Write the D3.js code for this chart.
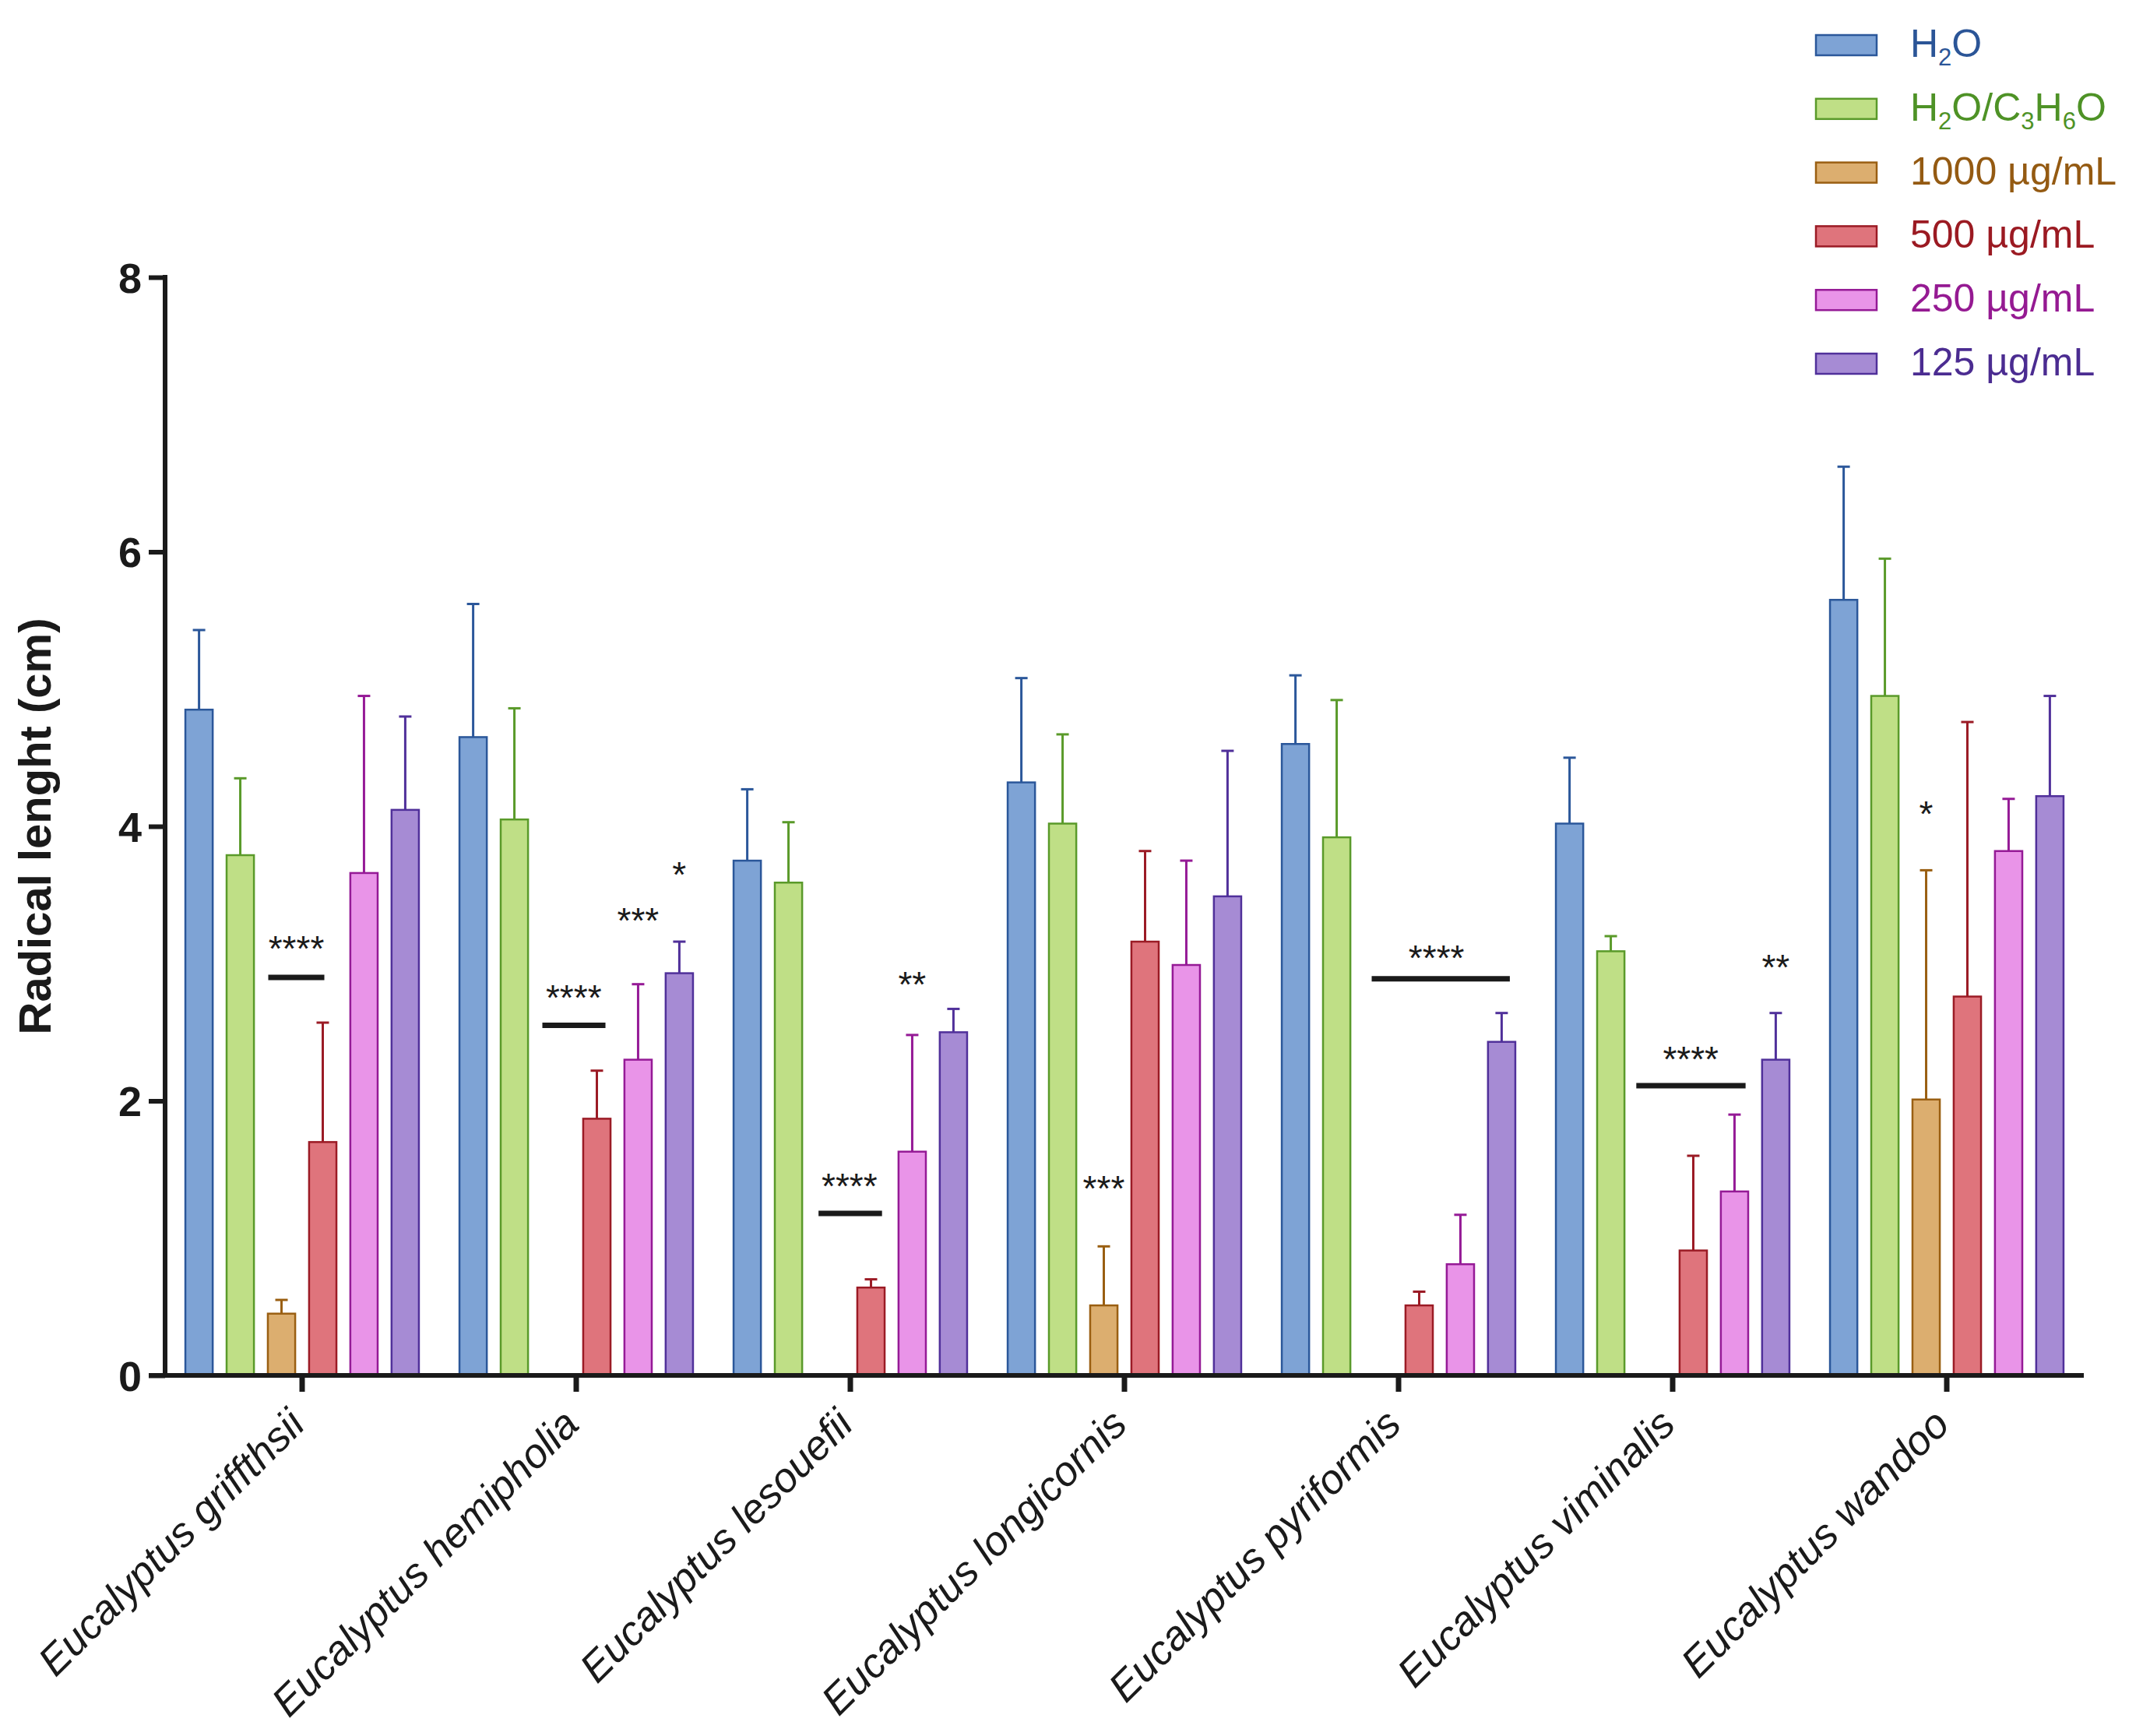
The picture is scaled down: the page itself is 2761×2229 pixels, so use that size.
<!DOCTYPE html>
<html>
<head>
<meta charset="utf-8">
<script src="https://cdn.jsdelivr.net/npm/d3@7"></script>
<style>
body { margin: 0; background: #fff; }
text { font-family: "Liberation Sans", Arial, sans-serif; }
</style>
</head>
<body>
<div id="chart"></div>
<script>
// species on the x axis
var categories = ["Eucalyptus griffthsii", "Eucalyptus hemipholia", "Eucalyptus lesouefii",
	"Eucalyptus longicornis", "Eucalyptus pyriformis", "Eucalyptus viminalis", "Eucalyptus wandoo"];

var seriesNames = ["H2O", "H2O/C3H6O", "1000 µg/mL", "500 µg/mL", "250 µg/mL", "125 µg/mL"];

// mean radical length (cm), one array per treatment
var meanH2O     = [4.85, 4.65, 3.75, 4.32, 4.60, 4.02, 5.65];
var meanH2OAce  = [3.79, 4.05, 3.59, 4.02, 3.92, 3.09, 4.95];
var mean1000    = [0.45, 0,    0,    0.51, 0,    0,    2.01];
var mean500     = [1.70, 1.87, 0.64, 3.16, 0.51, 0.91, 2.76];
var mean250     = [3.66, 2.30, 1.63, 2.99, 0.81, 1.34, 3.82];
var mean125     = [4.12, 2.93, 2.50, 3.49, 2.43, 2.30, 4.22];

// upper error (SD)
var errH2O      = [0.58, 0.97, 0.52, 0.76, 0.50, 0.48, 0.97];
var errH2OAce   = [0.56, 0.81, 0.44, 0.65, 1.00, 0.11, 1.00];
var err1000     = [0.10, 0,    0,    0.43, 0,    0,    1.67];
var err500      = [0.87, 0.35, 0.06, 0.66, 0.10, 0.69, 2.00];
var err250      = [1.29, 0.55, 0.85, 0.76, 0.36, 0.56, 0.38];
var err125      = [0.68, 0.23, 0.17, 1.06, 0.21, 0.34, 0.73];

var yTicks = [0, 2, 4, 6, 8];

// significance marks: group, label, position in bar slots, level (cm), optional bar [from, to, level]
var sigMarks = [
	{ group: 0, label: "****", slot: 2.69, level: 3.02, bar: [2.01, 3.37, 2.90] },
	{ group: 1, label: "****", slot: 2.77, level: 2.66, bar: [2.01, 3.54, 2.55] },
	{ group: 1, label: "***",  slot: 4.33, level: 3.22 },
	{ group: 1, label: "*",    slot: 5.33, level: 3.56 },
	{ group: 2, label: "****", slot: 2.81, level: 1.29, bar: [2.06, 3.60, 1.18] },
	{ group: 2, label: "**",   slot: 4.33, level: 2.76 },
	{ group: 3, label: "***",  slot: 2.33, level: 1.27 },
	{ group: 4, label: "****", slot: 3.75, level: 2.95, bar: [2.18, 5.53, 2.89] },
	{ group: 5, label: "****", slot: 3.27, level: 2.21, bar: [1.95, 4.60, 2.11] },
	{ group: 5, label: "**",   slot: 5.33, level: 2.88 },
	{ group: 6, label: "*",    slot: 2.33, level: 4.00 }
];

var means = [meanH2O, meanH2OAce, mean1000, mean500, mean250, mean125];
var errs = [errH2O, errH2OAce, err1000, err500, err250, err125];

var fills   = ["#7ea3d5", "#bfdf86", "#dcae6f", "#df747c", "#e994e8", "#a68bd4"];
var strokes = ["#2b579a", "#5a9a2a", "#9a5f12", "#9b1b25", "#951a96", "#50309a"];
var textCols = ["#2b5597", "#4e9226", "#945a12", "#9b1a22", "#951a92", "#4b2c91"];

var width = 2761, height = 2229;
var axisCol = "#1a1a1a";

var svg = d3.select("#chart").append("svg")
	.attr("width", width)
	.attr("height", height);

svg.append("rect").attr("width", width).attr("height", height).attr("fill", "#fff");

var x0 = d3.scaleBand()
	.domain(categories)
	.range([212, 2676])
	.paddingInner(0.148)
	.paddingOuter(0.074);

var x1 = d3.scaleBand()
	.domain(d3.range(seriesNames.length))
	.range([0, x0.bandwidth()])
	.paddingInner(0.337)
	.paddingOuter(0);

var y = d3.scaleLinear().domain([0, 8]).range([1766, 356]);

// build flat bar list
var bars = [];
categories.forEach(function (c, i) {
	seriesNames.forEach(function (s, j) {
		bars.push({ cat: c, s: j, v: means[j][i], e: errs[j][i] });
	});
});

var barG = svg.append("g");

// error bars first so the bar covers the lower part
var eb = barG.selectAll(".err")
	.data(bars.filter(function (d) { return d.v > 0 && d.e > 0; }))
	.enter().append("g")
	.attr("class", "err")
	.attr("transform", function (d) { return "translate(" + (x0(d.cat) + x1(d.s) + x1.bandwidth() / 2) + ",0)"; });

eb.append("line")
	.attr("y1", function (d) { return y(d.v); })
	.attr("y2", function (d) { return y(d.v + d.e); })
	.attr("stroke", function (d) { return strokes[d.s]; })
	.attr("stroke-width", 3);

eb.append("line")
	.attr("x1", -8).attr("x2", 8)
	.attr("y1", function (d) { return y(d.v + d.e); })
	.attr("y2", function (d) { return y(d.v + d.e); })
	.attr("stroke", function (d) { return strokes[d.s]; })
	.attr("stroke-width", 3);

barG.selectAll(".bar")
	.data(bars.filter(function (d) { return d.v > 0; }))
	.enter().append("rect")
	.attr("class", "bar")
	.attr("x", function (d) { return x0(d.cat) + x1(d.s); })
	.attr("width", x1.bandwidth())
	.attr("y", function (d) { return y(d.v); })
	.attr("height", function (d) { return y(0) - y(d.v); })
	.attr("fill", function (d) { return fills[d.s]; })
	.attr("stroke", function (d) { return strokes[d.s]; })
	.attr("stroke-width", 2.5);

// significance marks
var step = x1.step();
var sig = svg.append("g");

sig.selectAll(".sigline")
	.data(sigMarks.filter(function (d) { return d.bar; }))
	.enter().append("line")
	.attr("x1", function (d) { return x0(categories[d.group]) + d.bar[0] * step; })
	.attr("x2", function (d) { return x0(categories[d.group]) + d.bar[1] * step; })
	.attr("y1", function (d) { return y(d.bar[2]); })
	.attr("y2", function (d) { return y(d.bar[2]); })
	.attr("stroke", axisCol)
	.attr("stroke-width", 7);

sig.selectAll(".sigtext")
	.data(sigMarks)
	.enter().append("text")
	.attr("x", function (d) { return x0(categories[d.group]) + d.slot * step; })
	.attr("y", function (d) { return y(d.level); })
	.attr("text-anchor", "middle")
	.attr("font-size", 46)
	.attr("fill", axisCol)
	.text(function (d) { return d.label; });

// y axis
var yAxis = svg.append("g")
	.attr("transform", "translate(212,0)")
	.call(d3.axisLeft(y).tickValues(yTicks).tickSize(21).tickSizeOuter(0).tickPadding(9));

yAxis.select(".domain").attr("stroke", axisCol).attr("stroke-width", 6)
	.attr("d", "M0," + (y(8) - 3) + "V" + (y(0) + 3));
yAxis.selectAll(".tick line").attr("stroke", axisCol).attr("stroke-width", 6);
yAxis.selectAll(".tick text")
	.attr("font-size", 54)
	.attr("font-weight", "bold")
	.attr("fill", axisCol)
	.attr("dy", "0.36em")
	.style("font-family", "'Liberation Sans', Arial, sans-serif");

// x axis
var xAxis = svg.append("g")
	.attr("transform", "translate(0," + y(0) + ")")
	.call(d3.axisBottom(x0).tickSize(21).tickSizeOuter(0));

xAxis.select(".domain").attr("stroke", axisCol).attr("stroke-width", 6)
	.attr("d", "M" + (x0.range()[0] - 21) + ",0H" + x0.range()[1]);
xAxis.selectAll(".tick line").attr("stroke", axisCol).attr("stroke-width", 7);
xAxis.selectAll(".tick text")
	.attr("x", 0).attr("y", 0).attr("dy", 0)
	.attr("text-anchor", "end")
	.attr("transform", "translate(6,66) rotate(-45)")
	.attr("font-size", 53)
	.attr("font-style", "italic")
	.attr("fill", axisCol)
	.style("font-family", "'Liberation Sans', Arial, sans-serif");

// y title
svg.append("text")
	.attr("transform", "translate(65," + ((y(0) + y(8)) / 2) + ") rotate(-90)")
	.attr("text-anchor", "middle")
	.attr("font-size", 58)
	.attr("font-weight", "bold")
	.attr("fill", axisCol)
	.text("Radical lenght (cm)");

// legend
var legend = svg.append("g").attr("transform", "translate(2332,58)");

var rows = legend.selectAll(".row")
	.data(seriesNames)
	.enter().append("g")
	.attr("class", "row")
	.attr("transform", function (d, i) { return "translate(0," + (i * 81.8) + ")"; });

rows.append("rect")
	.attr("x", 0).attr("y", -13)
	.attr("width", 78).attr("height", 26)
	.attr("fill", function (d, i) { return fills[i]; })
	.attr("stroke", function (d, i) { return strokes[i]; })
	.attr("stroke-width", 2.5);

rows.append("text")
	.attr("x", 121)
	.attr("y", 15)
	.attr("font-size", 50)
	.attr("fill", function (d, i) { return textCols[i]; })
	.each(function (d) {
		var t = d3.select(this);
		if (d.indexOf("µg") >= 0) {
			t.text(d);
			return;
		}
		// chemical formula: digits become subscripts
		var parts = d.split(/(\d)/).filter(function (p) { return p !== ""; });
		var shift = 0;
		parts.forEach(function (p) {
			var sub = /^\d$/.test(p);
			var target = sub ? 11 : 0;
			t.append("tspan")
				.attr("font-size", sub ? 31 : 50)
				.attr("dy", target - shift)
				.text(p);
			shift = target;
		});
	});
</script>
</body>
</html>
